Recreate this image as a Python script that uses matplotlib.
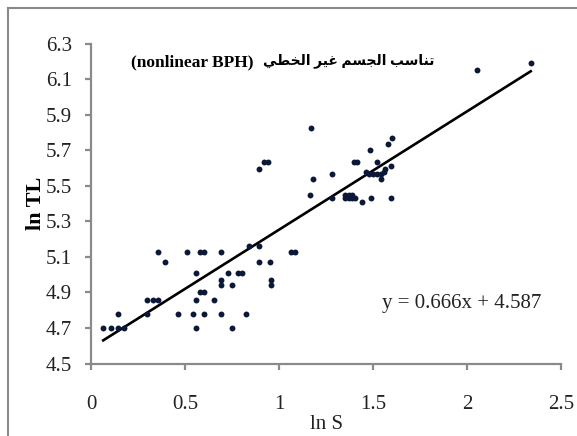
import matplotlib
matplotlib.use("Agg")
import matplotlib.pyplot as plt
from matplotlib.lines import Line2D
import numpy as np

ln_S = [0.065, 0.105, 0.142, 0.177, 0.560, 0.750,
        0.142, 0.296, 0.464, 0.541, 0.601, 0.691, 0.823,
        0.296, 0.328, 0.358, 0.560, 0.652,
        0.580, 0.601,
        0.691, 0.750, 0.956,
        0.691, 0.956,
        0.560, 0.730, 0.784, 0.805,
        0.394, 0.894, 0.952,
        0.358, 0.509, 0.580, 0.601, 0.691, 1.062, 1.085,
        0.842, 0.894,
        1.443,
        1.280, 1.353, 1.371, 1.388, 1.406, 1.489, 1.594,
        1.163, 1.353, 1.371, 1.388,
        1.182, 1.541,
        1.280, 1.480, 1.500, 1.520, 1.541,
        1.560, 1.463,
        0.894, 1.564,
        1.594,
        0.920, 0.940, 1.399, 1.413, 1.523,
        1.484, 1.581, 1.599, 1.168,
        2.052, 2.339]
ln_TL = [4.70]*6 + [4.78]*7 + [4.86]*5 + [4.90]*2 + [4.94]*3 + [4.97]*2 + \
        [5.01]*4 + [5.07]*3 + [5.13]*7 + [5.16]*2 + [5.41] + [5.43]*7 + \
        [5.45]*4 + [5.54]*2 + [5.565]*5 + [5.578, 5.58] + [5.593]*2 + [5.611] + \
        [5.632]*5 + [5.70, 5.737, 5.767, 5.823] + [6.152, 6.19]

slope = 0.666
intercept = 4.587

x_ticks = [0, 0.5, 1, 1.5, 2, 2.5]
x_tick_labels = ["0", "0.5", "1", "1.5", "2", "2.5"]
y_ticks = [4.5, 4.7, 4.9, 5.1, 5.3, 5.5, 5.7, 5.9, 6.1, 6.3]
y_tick_labels = ["4.5", "4.7", "4.9", "5.1", "5.3", "5.5", "5.7", "5.9", "6.1", "6.3"]

# Arabic title shaped in visual (left-to-right) order with presentation forms
w_khati = "\uFEF2\uFEC4\uFEA8\uFEDF\uFE8D"      # الخطي
w_ghair = "\uFEAE\uFEF4\uFECF"                  # غير
w_jism = "\uFEE2\uFEB4\uFEA0\uFEDF\uFE8D"       # الجسم
w_tanasub = "\uFE90\uFEB3\uFE8E\uFEE8\uFE97"    # تناسب
title_latin = "(nonlinear BPH)"
title_arabic = w_khati + " " + w_ghair + " " + w_jism + " " + w_tanasub

W, H = 577, 436
fig = plt.figure(figsize=(W/100, H/100), dpi=100)
ax = fig.add_axes([91/W, 1-363.5/H, (561-91)/W, (363.5-43.7)/H])

ax.scatter(ln_S, ln_TL, s=18, color="#0b1838", zorder=3, linewidths=0)
xs = np.array([min(ln_S), max(ln_S)])
ax.plot(xs, slope*xs + intercept, color="black", lw=1.9, zorder=2)

ax.set_xlim(0, 2.5)
ax.set_ylim(4.5, 6.3)
ax.set_xticks(x_ticks)
ax.set_xticklabels(x_tick_labels)
ax.set_yticks(y_ticks)
ax.set_yticklabels(y_tick_labels)

serif = "Liberation Serif"
for lab in ax.get_xticklabels() + ax.get_yticklabels():
    lab.set_fontfamily(serif)
    lab.set_fontsize(15)
    lab.set_color("#222222")

spine_col = "#8a8a8a"
for s in ["top", "right"]:
    ax.spines[s].set_visible(False)
for s in ["left", "bottom"]:
    ax.spines[s].set_color(spine_col)
    ax.spines[s].set_linewidth(1.6)
ax.tick_params(axis="x", direction="out", length=4.5, width=1.6, color=spine_col, pad=18)
ax.tick_params(axis="y", direction="out", length=4.5, width=1.6, color=spine_col, pad=9)

ax.set_xlabel("ln S", fontfamily=serif, fontsize=15, labelpad=1, color="#222222")
ax.set_ylabel("ln TL", fontfamily=serif, fontsize=16, fontweight="bold", labelpad=0, color="black")

ax.text(0.62, 0.187, "y = 0.666x + 4.587", transform=ax.transAxes,
        fontfamily=serif, fontsize=15, color="#222222", ha="left", va="center")

fig.text(131/W, 1-62/H, title_latin, family=serif, fontsize=12.5,
         fontweight="bold", ha="left", va="center", color="black")
fig.text(263/W, 1-61/H, title_arabic, family=[serif, "DejaVu Sans"], fontsize=10,
         fontweight="bold", ha="left", va="center", color="black")

# outer chart frame
fig.add_artist(Line2D([8/W, 8/W], [0, 1-8/H], transform=fig.transFigure, color="#8a8a8a", lw=1.5))
fig.add_artist(Line2D([8/W, 1], [1-8/H, 1-8/H], transform=fig.transFigure, color="#8a8a8a", lw=1.5))

fig.savefig("out.png", dpi=100)
